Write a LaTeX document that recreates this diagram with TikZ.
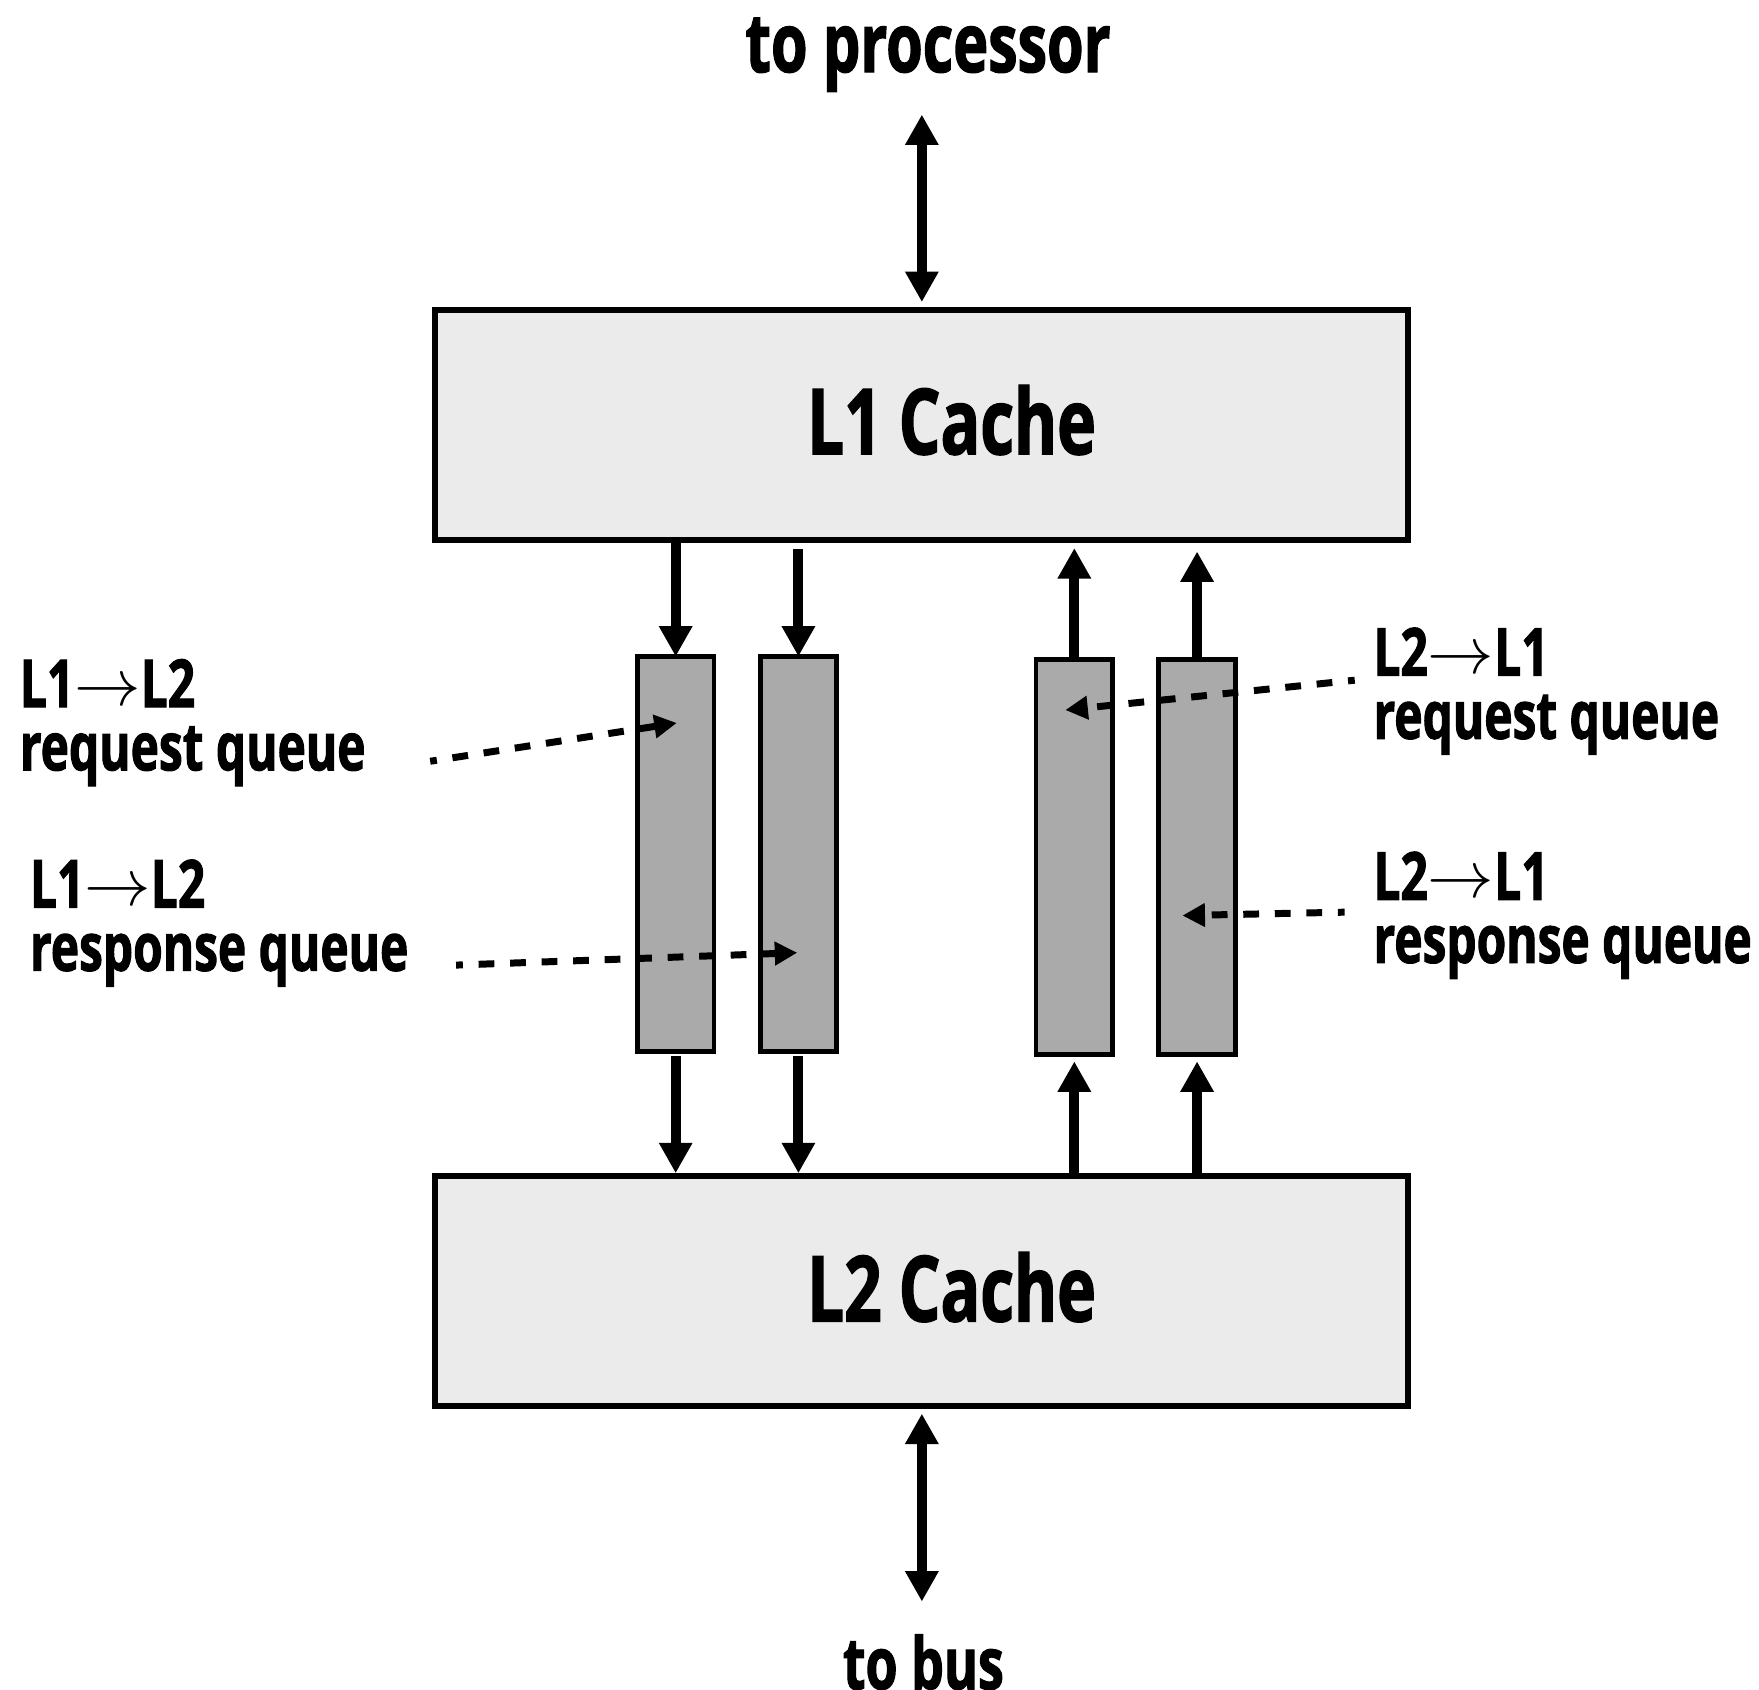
\RequirePackage{fix-cm}
\documentclass[tikz,border=0pt]{standalone}
\usepackage{fontspec}
\newfontfamily\figfont[FakeStretch=0.72, BoldFeatures={FakeBold=1.5}]{Open Sans}
\usetikzlibrary{arrows.meta, positioning}
\definecolor{cachegray}{RGB}{235,235,235}
\definecolor{queuegray}{RGB}{170,170,170}
\newcommand{\toarr}{\raisebox{0.03em}{$\rightarrow$}}
\tikzset{%
	cache box/.style={
		draw,
		line width=5.3pt,
		fill=cachegray,
		minimum width=864pt,
		minimum height=204pt,
		inner sep=0pt,
		outer sep=0pt
	},
	queue box/.style={
		draw,
		line width=4.2pt,
		fill=queuegray,
		minimum width=68pt,
		minimum height=351pt,
		inner sep=0pt,
		outer sep=0pt
	},
	cache title/.style={
		inner sep=0pt,
		font=\figfont\bfseries\fontsize{81}{84}\selectfont
	},
	end label/.style={
		inner sep=0pt,
		anchor=base,
		font=\figfont\bfseries\fontsize{73}{76}\selectfont
	},
	queue label/.style={
		inner sep=0pt,
		align=left,
		anchor=base west,
		font=\figfont\bfseries\fontsize{59}{56}\selectfont
	},
	link/.style={line width=9pt, -{Triangle[length=27pt,width=28pt]}},
	bus link/.style={line width=9pt, {Triangle[length=27pt,width=28pt]}-{Triangle[length=27pt,width=28pt]}},
	pointer/.style={line width=6.2pt, dash pattern=on 14pt off 14pt, dash phase=8pt, -{Triangle[length=20pt,width=20pt]}},
}
\begin{document}
\begin{tikzpicture}[x=1pt, y=-1pt]
	\useasboundingbox (0,0) rectangle (1562,1500);
	
	% caches
	\node[cache box] (l1) at (818.6,377.7) {};
	\node[cache title] (l1 title) at (845,373) {L1 Cache};
	\node[cache box] (l2) at (818.6,1146.3) {};
	\node[cache title] (l2 title) at (845,1143) {L2 Cache};
	
	% queues
	\node[queue box] (q1) at (600,758.5) {};
	\node[queue box, right=41pt of q1] (q2) {};
	\node[queue box] (q3) at (954,761) {};
	\node[queue box, right=41pt of q3] (q4) {};
	
	% ends
	\node[end label] (cpu) at (824,64) {to processor};
	\node[end label, font=\figfont\bfseries\fontsize{64}{66}\selectfont] (bus) at (820,1500) {to bus};
	\draw[bus link, shorten <=20pt, shorten >=7.5pt] (cpu.south -| l1.north) -- (l1.north);
	\draw[bus link, shorten <=7pt, shorten >=29pt] (l2.south) -- (bus.north -| l2.south);
	
	% queue links
	\draw[link] (l1.south -| q1) -- (q1.north);
	\draw[link, shorten <=8pt] (l1.south -| q2) -- (q2.north);
	\draw[link, shorten >=7pt] (q3.north) -- (l1.south -| q3);
	\draw[link, shorten >=10pt] (q4.north) -- (l1.south -| q4);
	\draw[link, shorten <=4pt, shorten >=2.5pt] (q1.south) -- (l2.north -| q1);
	\draw[link, shorten <=4pt, shorten >=2.5pt] (q2.south) -- (l2.north -| q2);
	\draw[link, shorten >=6pt] (l2.north -| q3) -- (q3.south);
	\draw[link, shorten >=6pt] (l2.north -| q4) -- (q4.south);
	
	% labels
	\node[queue label] (req down) at (17.5,684) {L1\toarr L2\\request queue};
	\node[queue label] (resp down) at (26.5,862) {L1\toarr L2\\response queue};
	\node[queue label] (req up) at (1219.5,656) {L2\toarr L1\\request queue};
	\node[queue label] (resp up) at (1219.5,855) {L2\toarr L1\\response queue};
	
	\coordinate (req down tail) at (382,676);
	\coordinate (req down head) at (601,642);
	\coordinate (resp down tail) at (405,857);
	\coordinate (resp down head) at (708,846);
	\coordinate (req up tail) at (1203,604);
	\coordinate (req up head) at (946,630.5);
	\coordinate (resp up tail) at (1194,810);
	\coordinate (resp up head) at (1050,813);
	\draw[pointer] (req down tail) -- (req down head);
	\draw[pointer] (resp down tail) -- (resp down head);
	\draw[pointer] (req up tail) -- (req up head);
	\draw[pointer] (resp up tail) -- (resp up head);
\end{tikzpicture}
\end{document}
